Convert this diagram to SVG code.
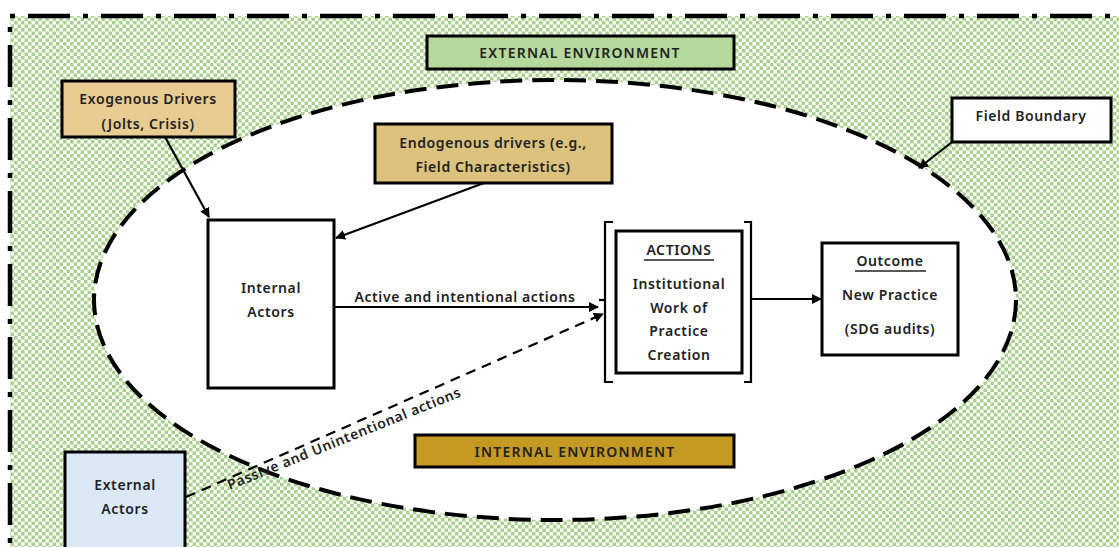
<svg xmlns="http://www.w3.org/2000/svg" width="1119" height="547" viewBox="0 0 1119 547">
<defs>
<pattern id="chk" width="7" height="7" patternUnits="userSpaceOnUse">
<rect width="7" height="7" fill="#ffffff"/>
<rect width="3.5" height="3.5" fill="#a9d18e"/>
<rect x="3.5" y="3.5" width="3.5" height="3.5" fill="#a9d18e"/>
</pattern>
<marker id="ah" viewBox="0 0 10 10" refX="9" refY="5" markerWidth="10" markerHeight="10" markerUnits="userSpaceOnUse" orient="auto">
<path d="M0,0 L10,5 L0,10 z" fill="#000"/>
</marker>
</defs>
<style>
.t{font-family:"Noto Sans","Open Sans",sans-serif;font-weight:600;font-size:14px;letter-spacing:0.6px;fill:#222;text-anchor:middle}
.u{letter-spacing:1.2px}
.box{stroke:#000;stroke-width:3}
.ln{stroke:#000;stroke-width:2.2;fill:none}
</style>
<rect width="1119" height="547" fill="#fff"/>
<g id="external-environment-area">
<rect x="10" y="16" width="1160" height="600" fill="url(#chk)" stroke="#000" stroke-width="4.5" stroke-dasharray="5 13 42 13"/>
</g>
<g id="field-ellipse">
<ellipse cx="555" cy="300" rx="461" ry="220" fill="#fff" stroke="#000" stroke-width="4" stroke-dasharray="22 10"/>
</g>
<g id="external-environment-label">
<rect class="box" x="427" y="36" width="307" height="33" fill="#b5d89d"/>
<text class="t u" x="580" y="58">EXTERNAL ENVIRONMENT</text>
</g>
<g id="exogenous-drivers">
<rect class="box" x="62" y="81" width="173" height="56" fill="#e8cc92"/>
<text class="t" x="148" y="104">Exogenous Drivers</text>
<text class="t" x="148" y="129">(Jolts, Crisis)</text>
</g>
<g id="endogenous-drivers">
<rect class="box" x="375" y="124" width="237" height="59" fill="#dcc27c"/>
<text class="t" x="493" y="148">Endogenous drivers (e.g.,</text>
<text class="t" x="493" y="172">Field Characteristics)</text>
</g>
<g id="field-boundary">
<rect class="box" x="952" y="98" width="159" height="44" fill="#fff"/>
<text class="t" x="1031" y="121">Field Boundary</text>
</g>
<g id="internal-actors">
<rect class="box" x="208" y="220" width="126" height="168" fill="#fff"/>
<text class="t" x="271" y="293">Internal</text>
<text class="t" x="271" y="317">Actors</text>
</g>
<g id="actions">
<path class="ln" d="M613,222 H605 V382 H613" stroke-width="3"/>
<path class="ln" d="M744,222 H751 V382 H744" stroke-width="3"/>
<rect class="box" x="616" y="231" width="126" height="142" fill="#fff"/>
<text class="t" x="679" y="255">ACTIONS</text>
<line x1="644" y1="260" x2="714" y2="260" stroke="#222" stroke-width="1.5"/>
<text class="t" x="679" y="289">Institutional</text>
<text class="t" x="679" y="313">Work of</text>
<text class="t" x="679" y="336">Practice</text>
<text class="t" x="679" y="360">Creation</text>
</g>
<g id="outcome">
<rect class="box" x="822" y="243" width="136" height="112" fill="#fff"/>
<text class="t" x="890" y="266">Outcome</text>
<line x1="855" y1="271" x2="926" y2="271" stroke="#222" stroke-width="1.5"/>
<text class="t" x="890" y="300">New Practice</text>
<text class="t" x="890" y="334">(SDG audits)</text>
</g>
<g id="external-actors">
<rect class="box" x="65" y="452" width="120" height="110" fill="#dbe8f6"/>
<text class="t" x="125" y="490">External</text>
<text class="t" x="125" y="514">Actors</text>
</g>
<g id="internal-environment-label">
<rect class="box" x="415" y="435" width="319" height="32" fill="#c49a22"/>
<text class="t u" x="575" y="457">INTERNAL ENVIRONMENT</text>
</g>
<g id="connectors">
<line class="ln" x1="165" y1="137" x2="209" y2="217" marker-end="url(#ah)"/>
<line class="ln" x1="484" y1="183" x2="336" y2="238" marker-end="url(#ah)"/>
<line class="ln" x1="952" y1="142" x2="919" y2="168" marker-end="url(#ah)"/>
<line class="ln" x1="335" y1="307" x2="598" y2="307" marker-end="url(#ah)"/>
<line class="ln" x1="599" y1="300" x2="606" y2="300"/>
<line class="ln" x1="752" y1="299" x2="821" y2="299" marker-end="url(#ah)"/>
<line class="ln" x1="186" y1="497" x2="603" y2="314" stroke-dasharray="10 7" marker-end="url(#ah)"/>
<text class="t" x="465" y="302">Active and intentional actions</text>
<text class="t" transform="translate(346,443) rotate(-22)">Passive and Unintentional actions</text>
</g>
</svg>
